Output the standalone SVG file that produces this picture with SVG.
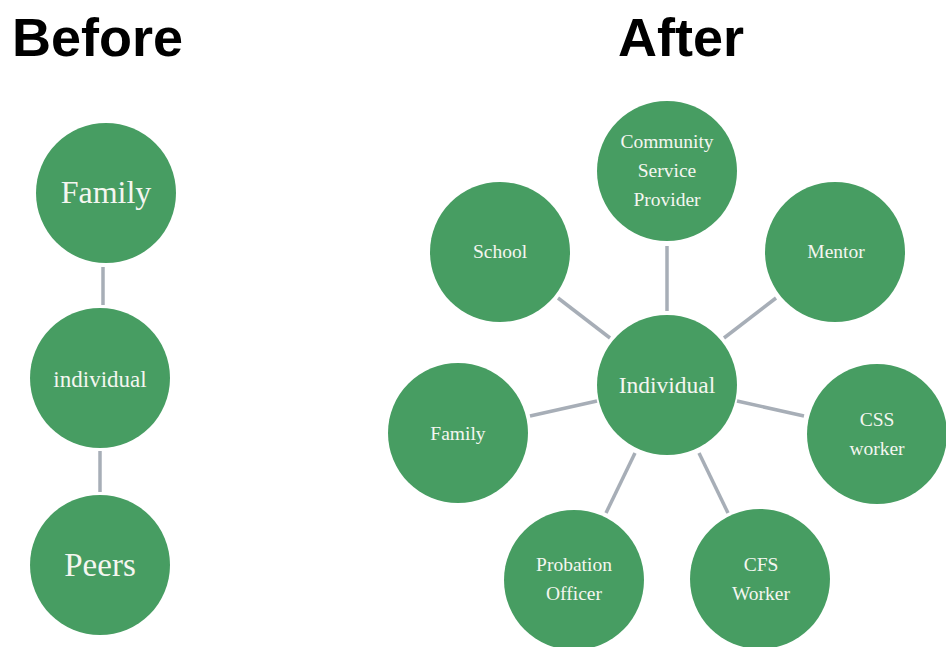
<svg xmlns="http://www.w3.org/2000/svg" width="946" height="647" viewBox="0 0 946 647">
<style>
.node circle{fill:#479D62;}
.node text{fill:#F4F6F0;font-family:"Liberation Serif","Times New Roman",serif;text-anchor:middle;}
.title{fill:#000;font-family:"Liberation Sans",Arial,sans-serif;font-weight:bold;font-size:54px;}
#connectors line{stroke:#A7AEB7;stroke-width:3.5;stroke-linecap:butt;}
</style>
<rect width="946" height="647" fill="#FFFFFF"/>
<text class="title" x="12" y="56">Before</text>
<text class="title" x="618" y="56">After</text>
<g id="connectors">
<line x1="103" y1="267" x2="103" y2="305"/>
<line x1="100" y1="451" x2="100" y2="492"/>
<line x1="667" y1="311" x2="667" y2="246"/>
<line x1="610" y1="338" x2="558" y2="298"/>
<line x1="724" y1="338" x2="776" y2="298"/>
<line x1="597" y1="401" x2="530" y2="416"/>
<line x1="737" y1="401" x2="804" y2="416"/>
<line x1="635" y1="453" x2="606" y2="513"/>
<line x1="699" y1="453" x2="728" y2="513"/>
</g>
<g id="before-family" class="node"><circle cx="106" cy="193" r="70"/><text x="106" y="203" font-size="32">Family</text></g>
<g id="before-individual" class="node"><circle cx="100" cy="378" r="70"/><text x="100" y="387" font-size="23">individual</text></g>
<g id="before-peers" class="node"><circle cx="100" cy="565" r="70"/><text x="100" y="576" font-size="33">Peers</text></g>
<g id="csp" class="node"><circle cx="667" cy="171" r="70"/><text x="667" y="148" font-size="19.5">Community</text><text x="667" y="177" font-size="19.5">Service</text><text x="667" y="206" font-size="19.5">Provider</text></g>
<g id="school" class="node"><circle cx="500" cy="252" r="70"/><text x="500" y="258" font-size="19.5">School</text></g>
<g id="mentor" class="node"><circle cx="835" cy="252" r="70"/><text x="836" y="258" font-size="19.5">Mentor</text></g>
<g id="individual" class="node"><circle cx="667" cy="385" r="70"/><text x="667" y="393" font-size="23.5">Individual</text></g>
<g id="family" class="node"><circle cx="458" cy="433" r="70"/><text x="458" y="440" font-size="19.5">Family</text></g>
<g id="css-worker" class="node"><circle cx="877" cy="434" r="70"/><text x="877" y="426" font-size="19.5">CSS</text><text x="877" y="455" font-size="19.5">worker</text></g>
<g id="probation-officer" class="node"><circle cx="574" cy="580" r="70"/><text x="574" y="571" font-size="19.5">Probation</text><text x="574" y="600" font-size="19.5">Officer</text></g>
<g id="cfs-worker" class="node"><circle cx="760" cy="579" r="70"/><text x="761" y="571" font-size="19.5">CFS</text><text x="761" y="600" font-size="19.5">Worker</text></g>
</svg>
